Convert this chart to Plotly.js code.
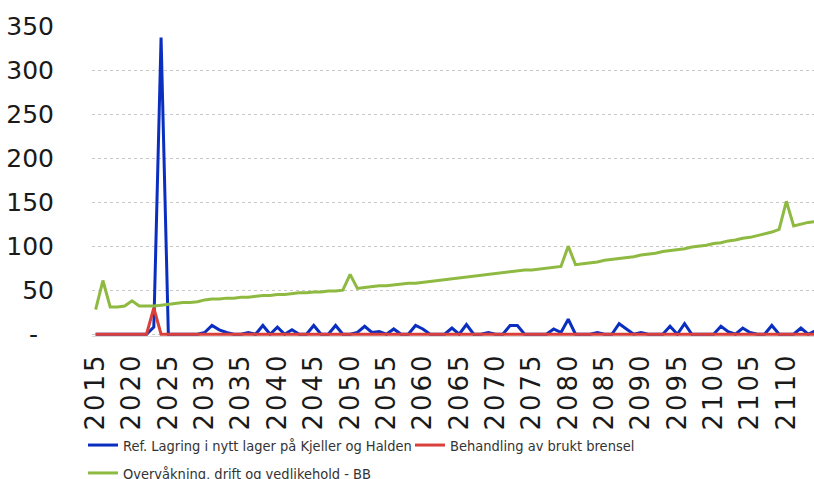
<!DOCTYPE html>
<html>
<head>
<meta charset="utf-8">
<script src="https://cdn.plot.ly/plotly-3.0.1.min.js"></script>
<style>
  html, body { margin: 0; padding: 0; background: #fff; }
  #chart { width: 814px; height: 479px; }
  .xtick text { letter-spacing: 3px; }
</style>
</head>
<body>
<div id="chart"></div>
<script>
const years = [
  2015,2016,2017,2018,2019,2020,2021,2022,2023,2024,
  2025,2026,2027,2028,2029,2030,2031,2032,2033,2034,
  2035,2036,2037,2038,2039,2040,2041,2042,2043,2044,
  2045,2046,2047,2048,2049,2050,2051,2052,2053,2054,
  2055,2056,2057,2058,2059,2060,2061,2062,2063,2064,
  2065,2066,2067,2068,2069,2070,2071,2072,2073,2074,
  2075,2076,2077,2078,2079,2080,2081,2082,2083,2084,
  2085,2086,2087,2088,2089,2090,2091,2092,2093,2094,
  2095,2096,2097,2098,2099,2100,2101,2102,2103,2104,
  2105,2106,2107,2108,2109,2110,2111,2112,2113,2114
];

const refLagring = [
  0,0,0,0,0,0,0,0,8,337,
  0,0,0,0,0,2,10,5,2,0,
  0,2,0,10,0,8,0,5,0,0,
  10,0,0,10,0,0,2,9,2,3,
  0,6,0,0,10,6,0,0,0,7,
  0,11,0,0,2,0,0,10,10,0,
  0,0,0,6,2,17,0,0,0,2,
  0,0,12,6,0,2,0,0,0,9,
  0,12,0,0,0,0,9,3,0,7,
  2,0,0,10,0,0,0,7,0,4
];

const behandling = [
  0,0,0,0,0,0,0,0,30,0,
  0,0,0,0,0,0,0,0,0,0,
  0,0,0,0,0,0,0,0,0,0,
  0,0,0,0,0,0,0,0,0,0,
  0,0,0,0,0,0,0,0,0,0,
  0,0,0,0,0,0,0,0,0,0,
  0,0,0,0,0,0,0,0,0,0,
  0,0,0,0,0,0,0,0,0,0,
  0,0,0,0,0,0,0,0,0,0,
  0,0,0,0,0,0,0,0,0,0
];

const overvakning = [
  28,61,31,31,32,38,32,32,32,33,
  34,35,36,36,37,39,40,40,41,41,
  42,42,43,44,44,45,45,46,47,47,
  48,48,49,49,50,68,52,53,54,55,
  55,56,57,58,58,59,60,61,62,63,
  64,65,66,67,68,69,70,71,72,73,
  73,74,75,76,77,100,79,80,81,82,
  84,85,86,87,88,90,91,92,94,95,
  96,97,99,100,101,103,104,106,107,109,
  110,112,114,116,119,151,123,125,127,128
];

const tickYears = [2015,2020,2025,2030,2035,2040,2045,2050,2055,2060,2065,2070,2075,2080,2085,2090,2095,2100,2105,2110];
const tickYearLabels = ["2015","2020","2025","2030","2035","2040","2045","2050","2055","2060","2065","2070","2075","2080","2085","2090","2095","2100","2105","2110"];
const yTickVals = [0,50,100,150,200,250,300,350];
const yTickLabels = ["-\u00a0\u00a0","50","100","150","200","250","300","350"];

const seriesNames = [
  "Ref. Lagring i nytt lager på Kjeller og Halden",
  "Behandling av brukt brensel",
  "Overvåkning, drift og vedlikehold - BB"
];

const legendFont = {family: "Liberation Sans Narrow, DejaVu Sans Condensed, Arial Narrow, sans-serif", size: 14.5, color: "#333333"};

const traces = [
  {x: years, y: refLagring, type: "scatter", mode: "lines", name: seriesNames[0],
   line: {color: "#0a2fc0", width: 3}, legend: "legend"},
  {x: years, y: behandling, type: "scatter", mode: "lines", name: seriesNames[1],
   line: {color: "#d9403b", width: 3}, legend: "legend"},
  {x: years, y: overvakning, type: "scatter", mode: "lines", name: seriesNames[2],
   line: {color: "#8fba42", width: 3}, legend: "legend2"}
];

const layout = {
  width: 814, height: 479,
  paper_bgcolor: "#ffffff", plot_bgcolor: "#ffffff",
  margin: {l: 92, r: 0, t: 26, b: 143, autoexpand: false},
  showlegend: true,
  xaxis: {
    range: [2014.5, 2113.8],
    tickmode: "array", tickvals: tickYears, ticktext: tickYearLabels,
    tickangle: -90,
    tickfont: {family: "DejaVu Sans, Verdana, sans-serif", size: 26, color: "#1a1a1a"},
    ticks: "outside", ticklen: 5, tickcolor: "rgba(0,0,0,0)",
    showgrid: false, zeroline: false,
    showline: true, linecolor: "#d9d9d9", linewidth: 1,
    automargin: false, fixedrange: true
  },
  yaxis: {
    range: [-2, 350],
    tickmode: "array", tickvals: yTickVals, ticktext: yTickLabels,
    tickfont: {family: "DejaVu Sans, Verdana, sans-serif", size: 25, color: "#1a1a1a"},
    ticks: "outside", ticklen: 32, tickcolor: "rgba(0,0,0,0)",
    showgrid: true, gridcolor: "#c8c8c8", gridwidth: 1, griddash: "dot",
    zeroline: false, showline: false,
    automargin: false, fixedrange: true
  },
  legend: {
    orientation: "h", x: -0.0125, xanchor: "left", y: -0.352, yanchor: "middle",
    font: legendFont, entrywidth: 282, entrywidthmode: "pixels",
    bgcolor: "rgba(0,0,0,0)", itemclick: false, itemdoubleclick: false
  },
  legend2: {
    orientation: "h", x: -0.0125, xanchor: "left", y: -0.442, yanchor: "middle",
    font: legendFont,
    bgcolor: "rgba(0,0,0,0)", itemclick: false, itemdoubleclick: false
  }
};

Plotly.newPlot("chart", traces, layout, {displayModeBar: false, staticPlot: true});
</script>
</body>
</html>
